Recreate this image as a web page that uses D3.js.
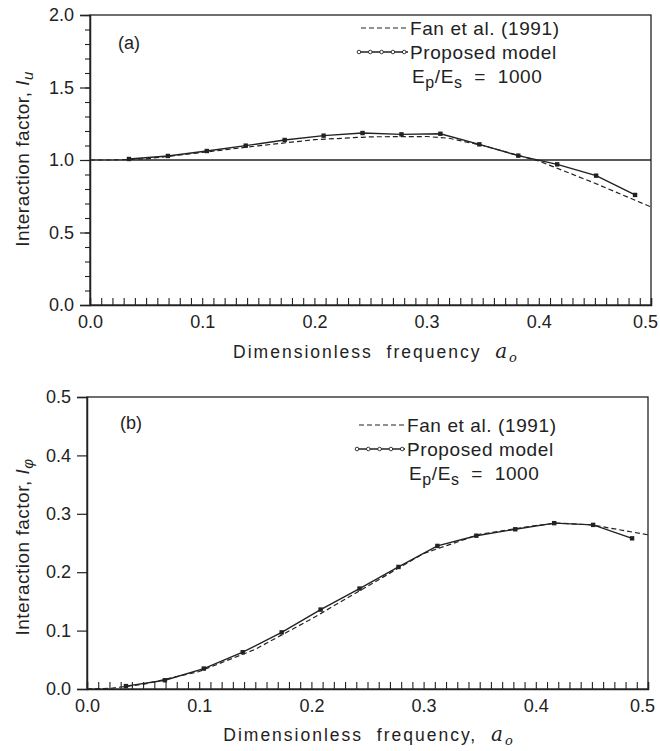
<!DOCTYPE html>
<html><head><meta charset="utf-8">
<script src="https://cdn.jsdelivr.net/npm/d3@7"></script>
<style>
body{margin:0;background:#fff;}
text{font-family:"Liberation Sans",Arial,sans-serif;fill:#222;}
</style></head>
<body><svg id="c" width="660" height="751"></svg>
<script>
// ---- data ----
const a0Model = [0.0347,0.0694,0.1041,0.1388,0.1735,0.2082,0.2429,0.2776,0.3123,0.3470,0.3817,0.4164,0.4511,0.4858];
const iuModel = [1.007,1.028,1.062,1.099,1.138,1.168,1.186,1.177,1.181,1.108,1.030,0.970,0.892,0.759];
const a0FanU  = [0,0.02,0.05,0.1,0.15,0.2,0.25,0.3,0.32,0.35,0.4,0.45,0.5];
const iuFan   = [1.0,1.0,1.008,1.052,1.098,1.14,1.16,1.162,1.15,1.10,0.993,0.84,0.676];
const iphiModel = [0.005,0.015,0.035,0.063,0.097,0.136,0.172,0.209,0.245,0.2625,0.2735,0.284,0.281,0.258];
const a0FanP  = [0,0.02,0.05,0.1,0.15,0.2,0.25,0.3,0.35,0.4,0.42,0.45,0.5];
const iphiFan = [0,0.001,0.008,0.03,0.068,0.12,0.176,0.232,0.265,0.28,0.284,0.281,0.264];
const xTicks = [0,0.1,0.2,0.3,0.4,0.5];
const yTicksA = [0,0.5,1.0,1.5,2.0];
const yTicksB = [0,0.1,0.2,0.3,0.4,0.5];

const svg = d3.select("#c");
const ink = "#222";

function panel(cfg){
  const g = svg.append("g");
  const x = d3.scaleLinear().domain([0,0.5]).range([cfg.x0,cfg.x1]);
  const y = d3.scaleLinear().domain(cfg.ydom).range([cfg.y0,cfg.y1]);
  g.append("rect").attr("x",cfg.x0).attr("y",cfg.y1).attr("width",cfg.x1-cfg.x0).attr("height",cfg.y0-cfg.y1)
    .attr("fill","none").attr("stroke",ink).attr("stroke-width",1.3);
  const xa = d3.axisTop(x).tickValues(d3.range(0,51).map(i=>i/100)).tickSize(7).tickFormat("");
  const gx = g.append("g").attr("transform",`translate(0,${cfg.y0})`).call(xa);
  gx.select(".domain").attr("stroke",ink).attr("stroke-width",1.5);
  gx.selectAll(".tick line").attr("stroke",ink).attr("stroke-width",1.1);
  const xl = d3.axisBottom(x).tickValues(xTicks).tickSize(0).tickPadding(10).tickFormat(d3.format(".1f"));
  const gxl = g.append("g").attr("transform",`translate(0,${cfg.y0})`).call(xl);
  gxl.select(".domain").remove();
  gxl.selectAll("text").attr("font-size",18).attr("fill",ink)
    .attr("font-family","Liberation Sans, Arial, sans-serif")
    .attr("dx",d=>d===0.5?-6:0);
  if(cfg.yMinor){
    const ym = d3.axisLeft(y).tickValues(cfg.yMinor).tickSize(5).tickFormat("");
    const gym = g.append("g").attr("transform",`translate(${cfg.x0},0)`).call(ym);
    gym.select(".domain").remove();
    gym.selectAll(".tick line").attr("stroke",ink).attr("stroke-width",1.1);
  }
  const ya = d3.axisLeft(y).tickValues(cfg.yTicks).tickSize(10).tickPadding(6).tickFormat(d3.format(".1f"));
  const gy = g.append("g").attr("transform",`translate(${cfg.x0},0)`).call(ya);
  gy.select(".domain").attr("stroke",ink).attr("stroke-width",1.5);
  gy.selectAll(".tick line").attr("stroke",ink).attr("stroke-width",1.2);
  gy.selectAll("text").attr("font-size",18).attr("fill",ink)
    .attr("font-family","Liberation Sans, Arial, sans-serif");
  return {g,x,y};
}

function drawSeries(p, fx, fy, mx, my){
  const line = d3.line().x(d=>p.x(d[0])).y(d=>p.y(d[1]));
  p.g.append("path").datum(fx.map((v,i)=>[v,fy[i]])).attr("d",line)
    .attr("fill","none").attr("stroke",ink).attr("stroke-width",1.2).attr("stroke-dasharray","5,3");
  const pts = mx.map((v,i)=>[v,my[i]]);
  p.g.append("path").datum(pts).attr("d",line)
    .attr("fill","none").attr("stroke",ink).attr("stroke-width",1.4);
  p.g.selectAll(".m").data(pts).enter().append("rect")
    .attr("x",d=>p.x(d[0])-2.2).attr("y",d=>p.y(d[1])-2.2).attr("width",4.4).attr("height",4.4).attr("fill",ink);
}

function legend(p, lx0, lx1, ty){
  const g = p.g;
  g.append("line").attr("x1",lx0+3).attr("x2",lx1-2).attr("y1",ty).attr("y2",ty)
    .attr("stroke",ink).attr("stroke-width",1.1).attr("stroke-dasharray","5,3");
  g.append("text").attr("x",lx1).attr("y",ty+7).attr("font-size",19).attr("letter-spacing",0.6).text("Fan et al. (1991)");
  const y2 = ty+24;
  g.append("line").attr("x1",lx0).attr("x2",lx1-2).attr("y1",y2).attr("y2",y2).attr("stroke",ink).attr("stroke-width",1.3);
  d3.range(5).forEach(i=>{
    g.append("circle").attr("cx",lx0+1+i*11.3).attr("cy",y2).attr("r",1.8).attr("fill","#fff").attr("stroke",ink).attr("stroke-width",0.9);
  });
  g.append("text").attr("x",lx1).attr("y",y2+7).attr("font-size",19).attr("letter-spacing",0.6).text("Proposed model");
  const t = g.append("text").attr("x",lx1+2).attr("y",y2+31).attr("font-size",19).attr("letter-spacing",0.6)
    .attr("xml:space","preserve");
  t.append("tspan").text("E");
  t.append("tspan").attr("font-size",16).attr("dy",5).text("p");
  t.append("tspan").attr("dy",-5).text("/E");
  t.append("tspan").attr("font-size",16).attr("dy",5).text("s");
  t.append("tspan").attr("dy",-5).text("  =  1000");
}

// ---- panel (a) ----
const pa = panel({x0:90,x1:651,y0:305,y1:15,ydom:[0,2],yTicks:yTicksA,
  yMinor:d3.range(0,21).map(i=>i/10)});
pa.g.append("line").attr("x1",pa.x(0)).attr("x2",pa.x(0.5)).attr("y1",pa.y(1)).attr("y2",pa.y(1))
  .attr("stroke",ink).attr("stroke-width",1.3);
drawSeries(pa, a0FanU, iuFan, a0Model, iuModel);
legend(pa, 358, 410, 28);
pa.g.append("text").attr("x",118).attr("y",49).attr("font-size",18).text("(a)");
const tya = pa.g.append("text").attr("transform","translate(29,159) rotate(-90)").attr("text-anchor","middle")
  .attr("font-size",19).attr("letter-spacing",0.5);
tya.append("tspan").text("Interaction factor, ");
tya.append("tspan").attr("font-style","italic").text("I");
tya.append("tspan").attr("font-style","italic").attr("font-size",15).attr("dy",4).text("u");
const txa = pa.g.append("text").attr("x",376).attr("y",358).attr("text-anchor","middle").attr("font-size",17.5).attr("letter-spacing",2)
  .attr("xml:space","preserve");
txa.append("tspan").text("Dimensionless  frequency  ");
txa.append("tspan").attr("font-family","DejaVu Serif, serif").attr("font-style","italic").attr("font-size",20).text("a");
txa.append("tspan").attr("font-family","DejaVu Serif, serif").attr("font-style","italic").attr("font-size",13).attr("dy",4).text("o");

// ---- panel (b) ----
const pb = panel({x0:87,x1:648,y0:689,y1:397,ydom:[0,0.5],yTicks:yTicksB});
drawSeries(pb, a0FanP, iphiFan, a0Model, iphiModel);
legend(pb, 356, 407, 425);
pb.g.append("text").attr("x",120).attr("y",429).attr("font-size",18).text("(b)");
const tyb = pb.g.append("text").attr("transform","translate(29,547) rotate(-90)").attr("text-anchor","middle")
  .attr("font-size",19).attr("letter-spacing",0.5);
tyb.append("tspan").text("Interaction factor, ");
tyb.append("tspan").attr("font-style","italic").text("I");
tyb.append("tspan").attr("font-style","italic").attr("font-size",15).attr("dy",4).text("φ");
const txb = pb.g.append("text").attr("x",369).attr("y",741).attr("text-anchor","middle").attr("font-size",17.5).attr("letter-spacing",2)
  .attr("xml:space","preserve");
txb.append("tspan").text("Dimensionless  frequency,  ");
txb.append("tspan").attr("font-family","DejaVu Serif, serif").attr("font-style","italic").attr("font-size",20).text("a");
txb.append("tspan").attr("font-family","DejaVu Serif, serif").attr("font-style","italic").attr("font-size",13).attr("dy",4).text("o");
</script></body></html>
